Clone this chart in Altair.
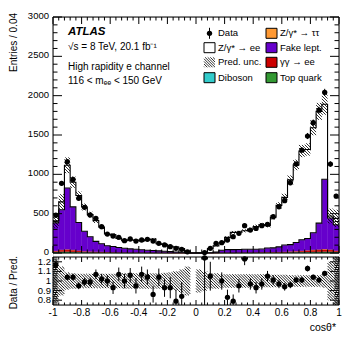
import math
import numpy as np
import pandas as pd
import altair as alt

# ---------------- values ----------------
N = 50
bin_lo = [round(-1 + 0.04 * i, 2) for i in range(N)]
bin_hi = [round(v + 0.04, 2) for v in bin_lo]
bin_c = [round(v + 0.02, 2) for v in bin_lo]

data_counts = [480, 886, 1160, 936, 695, 580, 483, 441, 334, 241,
               216, 199, 156, 178, 152, 165, 174, 152, 123, 102,
               80, 60, 47, 15, None, None, 5, 60, 123, 131,
               165, 207, 250, 347, 292, 313, 347, 365, 461, 588,
               665, 893, 1131, 1309, 1487, 1656, 1817, 2042, 1131, 724]
data_err = [22, 30, 34, 31, 26, 24, 22, 21, 18, 16,
            15, 14, 12, 13, 12, 13, 13, 12, 11, 10,
            9, 8, 7, 4, None, None, 2, 8, 11, 11,
            13, 14, 16, 19, 17, 18, 19, 19, 21, 24,
            26, 30, 34, 36, 39, 41, 43, 45, 34, 27]
pred_total = [410, 650, 1115, 900, 730, 585, 488, 412, 327, 241,
              232, 186, 156, 168, 160, 154, 167, 177, 118, 110,
              86, 76, 56, 25, 0, 2, 4, 57, 90, 131,
              199, 262, 263, 282, 301, 337, 358, 348, 456, 606,
              707, 930, 1120, 1296, 1316, 1592, 1800, 1890, 470, 440]
top_quark = [12, 14, 14, 12, 10, 9, 8, 7, 6, 5,
             5, 4, 4, 3, 3, 3, 2, 2, 2, 2,
             1, 1, 1, 0, 0, 0, 0, 1, 1, 2,
             2, 2, 3, 3, 3, 4, 4, 5, 5, 6,
             7, 8, 9, 10, 11, 12, 13, 14, 14, 12]
diboson = [3, 4, 4, 3, 3, 2, 2, 2, 2, 1,
           1, 1, 1, 1, 1, 1, 1, 1, 1, 1,
           0, 0, 0, 0, 0, 0, 0, 0, 0, 1,
           1, 1, 1, 1, 1, 1, 1, 1, 1, 1,
           1, 2, 2, 2, 2, 3, 3, 4, 4, 3]
gamgam = [10, 20, 25, 22, 15, 10, 8, 6, 5, 4,
          3, 3, 2, 2, 2, 2, 1, 1, 1, 1,
          1, 0, 0, 0, 0, 0, 0, 0, 1, 1,
          1, 1, 1, 2, 2, 2, 3, 3, 4, 5,
          6, 8, 10, 13, 18, 22, 25, 28, 22, 12]
ztautau = [2, 3, 4, 3, 3, 2, 2, 2, 2, 2,
           1, 1, 1, 1, 1, 1, 1, 1, 1, 1,
           1, 1, 0, 0, 0, 0, 0, 0, 1, 1,
           1, 1, 1, 1, 1, 1, 2, 2, 2, 2,
           2, 3, 3, 3, 4, 4, 4, 5, 4, 3]
fake = [356, 508, 779, 546, 356, 254, 187, 131, 102, 80,
        72, 60, 52, 45, 40, 35, 30, 27, 22, 18,
        14, 10, 8, 4, 0, 0, 0, 3, 8, 30,
        38, 38, 38, 40, 40, 40, 40, 53, 53, 64,
        85, 85, 110, 140, 150, 216, 335, 886, 400, 330]
pred_unc = [0.22, 0.15, 0.09, 0.08, 0.075, 0.075, 0.075, 0.075, 0.075, 0.075,
            0.075, 0.075, 0.08, 0.08, 0.08, 0.08, 0.08, 0.08, 0.08, 0.085,
            0.09, 0.10, 0.12, 0.15, 0, 0.12, 0.10, 0.08, 0.08, 0.07,
            0.07, 0.07, 0.07, 0.07, 0.07, 0.07, 0.07, 0.065, 0.065, 0.065,
            0.065, 0.06, 0.06, 0.06, 0.06, 0.06, 0.06, 0.07, 0.20, 0.25]
ratio = [1.17, None, 1.04, 1.04, 0.95, 0.99, 0.99, 1.07, 1.02, 1.00,
         0.93, 1.07, 1.00, 1.06, 0.95, 1.07, 1.04, 0.86, 1.04, 0.93,
         0.93, 0.79, 0.84, None, None, None, 1.24, 1.05, None, 1.00,
         0.83, 0.79, 0.95, 1.23, 0.97, 0.93, 0.97, 1.05, 1.01, 0.97,
         0.94, 0.96, 1.01, 1.01, 1.13, 1.04, 1.01, 1.08, None, None]
ratio_err = [0.04, None, 0.03, 0.035, 0.035, 0.04, 0.045, 0.05, 0.055, 0.06,
             0.065, 0.07, 0.075, 0.075, 0.08, 0.08, 0.08, 0.085, 0.09, 0.095,
             0.11, 0.12, 0.15, None, None, None, 0.5, 0.15, None, 0.09,
             0.08, 0.07, 0.07, 0.065, 0.06, 0.06, 0.06, 0.055, 0.05, 0.045,
             0.04, 0.035, 0.03, 0.03, 0.03, 0.025, 0.025, 0.025, None, None]

x_major = [-1, -0.8, -0.6, -0.4, -0.2, 0, 0.2, 0.4, 0.6, 0.8, 1]
x_labels = ["-1", "-0.8", "-0.6", "-0.4", "-0.2", "0", "0.2", "0.4", "0.6", "0.8", "1"]
y_major = [0, 500, 1000, 1500, 2000, 2500, 3000]
y_labels = ["0", "500", "1000", "1500", "2000", "2500", "3000"]
r_major = [0.8, 0.9, 1.0, 1.1, 1.2]
r_labels = ["0.8", "0.9", "1", "1.1", "1.2"]

# ---------------- layout ----------------
W, MH, GAP, RH = 286, 236, 4, 48
RT = MH + GAP
TH = RT + RH
FONT = "Liberation Sans"

xsc = alt.Scale(domain=[-1, 1], nice=False, zero=False)
ymain = alt.Scale(domain=[0, 3000], range=[MH, 0], nice=False, zero=False)
yrat = alt.Scale(domain=[0.75, 1.25], range=[TH, RT], nice=False, zero=False, clamp=True)
one = pd.DataFrame({"a": [0]})

# ---------------- stacked histogram ----------------
comps = [("Top quark", top_quark, "#339933"), ("Diboson", diboson, "#33cccc"),
         ("gg", gamgam, "#cc0000"), ("tautau", ztautau, "#ff9933"),
         ("Fake", fake, "#6600cc"), ("DY", None, "#ffffff")]
rects, lines = [], []
base = [0] * N
for name, vals, col in comps:
    if vals is None:
        vals = [max(pred_total[i] - base[i], 0) for i in range(N)]
    for i in range(N):
        rects.append(dict(lo=bin_lo[i], hi=bin_hi[i], y0=base[i], y1=base[i] + vals[i], col=col))
        if name in ("Fake", "DY"):
            lines.append(dict(x=bin_lo[i], y=base[i] + vals[i], name=name))
    if name in ("Fake", "DY"):
        lines.append(dict(x=1.0, y=base[-1] + vals[-1], name=name))
    base = [base[i] + vals[i] for i in range(N)]

stack = alt.Chart(pd.DataFrame(rects)).mark_rect(strokeWidth=0.4).encode(
    x=alt.X("lo:Q", scale=xsc, axis=None), x2="hi:Q",
    y=alt.Y("y0:Q", scale=ymain, axis=None), y2="y1:Q",
    fill=alt.Fill("col:N", scale=None), stroke=alt.Stroke("col:N", scale=None))
outline = alt.Chart(pd.DataFrame(lines)).mark_line(interpolate="step-after", color="black", strokeWidth=1.1).encode(
    x=alt.X("x:Q", scale=xsc, axis=None), y=alt.Y("y:Q", scale=ymain, axis=None), detail="name:N")


def hatch(boxes, sx, sy, x0, y0, sp=3.0):
    segs = []
    for (xa, xb, ya, yb) in boxes:
        ua, ub = (xa - x0) * sx, (xb - x0) * sx
        va, vb = (ya - y0) * sy, (yb - y0) * sy
        for n in range(math.ceil((ua + va) / sp), math.floor((ub + vb) / sp) + 1):
            k = n * sp
            u1, u2 = max(ua, k - vb), min(ub, k - va)
            if u2 - u1 > 0.05:
                segs.append(dict(x=u1 / sx + x0, y=(k - u1) / sy + y0,
                                 x2=u2 / sx + x0, y2=(k - u2) / sy + y0))
    return pd.DataFrame(segs)


sx = W / 2.0
main_boxes = [(bin_lo[i], bin_hi[i], pred_total[i] * (1 - pred_unc[i]), pred_total[i] * (1 + pred_unc[i]))
              for i in range(N) if pred_unc[i] > 0 and pred_total[i] > 0]
rat_boxes = [(bin_lo[i], bin_hi[i], 1 - pred_unc[i], 1 + pred_unc[i]) for i in range(N) if pred_unc[i] > 0]
hm = hatch(main_boxes, sx, MH / 3000.0, -1, 0)
hr = hatch(rat_boxes, sx, RH / 0.5, -1, 0.75, sp=2.8)
hatch_main = alt.Chart(hm).mark_rule(color="black", strokeWidth=0.8).encode(
    x=alt.X("x:Q", scale=xsc, axis=None), x2="x2:Q",
    y=alt.Y("y:Q", scale=ymain, axis=None), y2="y2:Q")
hatch_rat = alt.Chart(hr).mark_rule(color="black", strokeWidth=0.9).encode(
    x=alt.X("x:Q", scale=xsc, axis=None), x2="x2:Q",
    y=alt.Y("y:Q", scale=yrat, axis=None), y2="y2:Q")

# ---------------- data points ----------------
dm = pd.DataFrame([dict(c=bin_c[i], v=data_counts[i], lo=data_counts[i] - data_err[i], hi=data_counts[i] + data_err[i])
                   for i in range(N) if data_counts[i] is not None])
dr = pd.DataFrame([dict(c=bin_c[i], v=ratio[i], lo=ratio[i] - ratio_err[i], hi=ratio[i] + ratio_err[i])
                   for i in range(N) if ratio[i] is not None])
err_main = alt.Chart(dm).mark_rule(color="black", strokeWidth=1).encode(
    x=alt.X("c:Q", scale=xsc, axis=None), y=alt.Y("lo:Q", scale=ymain, axis=None), y2="hi:Q")
pts_main = alt.Chart(dm).mark_circle(color="black", size=28, opacity=1).encode(
    x=alt.X("c:Q", scale=xsc, axis=None), y=alt.Y("v:Q", scale=ymain, axis=None))
err_rat = alt.Chart(dr).mark_rule(color="black", strokeWidth=1).encode(
    x=alt.X("c:Q", scale=xsc, axis=None), y=alt.Y("lo:Q", scale=yrat, axis=None), y2="hi:Q")
pts_rat = alt.Chart(dr).mark_circle(color="black", size=28, opacity=1).encode(
    x=alt.X("c:Q", scale=xsc, axis=None), y=alt.Y("v:Q", scale=yrat, axis=None))

# ---------------- frames, ticks, labels ----------------
frames = []
for (ya, yb) in [(0, MH), (RT, TH)]:
    frames.append(alt.Chart(one).mark_rect(filled=False, stroke="black", strokeWidth=1).encode(
        x=alt.value(0), x2=alt.value(W), y=alt.value(ya), y2=alt.value(yb)))

x_minor = [round(-1 + 0.04 * k, 2) for k in range(51)]
x_minor = [v for v in x_minor if abs(v * 5 - round(v * 5)) > 1e-6]
y_minor = [v for v in range(0, 3001, 100) if v % 500]
r_minor = [round(0.76 + 0.02 * k, 2) for k in range(25)]
r_minor = [v for v in r_minor if abs(v * 10 - round(v * 10)) > 1e-6]


def xticks(vals, y_a, y_b):
    return alt.Chart(pd.DataFrame({"v": vals})).mark_rule(color="black", strokeWidth=1).encode(
        x=alt.X("v:Q", scale=xsc, axis=None), y=alt.value(y_a), y2=alt.value(y_b))


def yticks(vals, ysc, x_a, x_b):
    return alt.Chart(pd.DataFrame({"v": vals})).mark_rule(color="black", strokeWidth=1).encode(
        y=alt.Y("v:Q", scale=ysc, axis=None), x=alt.value(x_a), x2=alt.value(x_b))


ticks = [
    xticks(x_major, 0, 7), xticks(x_minor, 0, 3.5),
    xticks(x_major, MH - 7, MH), xticks(x_minor, MH - 3.5, MH),
    xticks(x_major, RT, RT + 5), xticks(x_minor, RT, RT + 2.5),
    xticks(x_major, TH - 5, TH), xticks(x_minor, TH - 2.5, TH),
    yticks(y_major, ymain, 0, 9), yticks(y_minor, ymain, 0, 4.5),
    yticks(y_major, ymain, W - 9, W), yticks(y_minor, ymain, W - 4.5, W),
    yticks(r_major, yrat, 0, 9), yticks(r_minor, yrat, 0, 4.5),
    yticks(r_major, yrat, W - 9, W), yticks(r_minor, yrat, W - 4.5, W),
]

lab_x = alt.Chart(pd.DataFrame({"v": x_major, "t": x_labels})).mark_text(
    font=FONT, fontSize=10, align="center", baseline="middle").encode(
    x=alt.X("v:Q", scale=xsc, axis=None), y=alt.value(TH + 8), text="t:N")
lab_y = alt.Chart(pd.DataFrame({"v": y_major, "t": y_labels})).mark_text(
    font=FONT, fontSize=9.5, align="right", baseline="middle", dy=-1).encode(
    y=alt.Y("v:Q", scale=ymain, axis=None), x=alt.value(-4), text="t:N")
lab_r = alt.Chart(pd.DataFrame({"v": r_major, "t": r_labels})).mark_text(
    font=FONT, fontSize=9.5, align="right", baseline="middle").encode(
    y=alt.Y("v:Q", scale=yrat, axis=None), x=alt.value(-2), text="t:N")


def txt(s, x, y, size=10, align="left", baseline="middle", angle=0, weight="normal", style="normal"):
    return alt.Chart(one).mark_text(font=FONT, fontSize=size, align=align, baseline=baseline,
                                    angle=angle, fontWeight=weight, fontStyle=style).encode(
        x=alt.value(x), y=alt.value(y), text=alt.value(s))


texts = [
    txt("Entries / 0.04", -39, -4, size=10, align="right", angle=270),
    txt("Data / Pred.", -39, RT - 1, size=10, align="right", angle=270),
    txt("cosθ*", W - 3, TH + 23, size=10.5, align="right"),
    txt("ATLAS", 15, 15, size=11.5, weight="bold", style="italic"),
    txt("√s = 8 TeV, 20.1 fb⁻¹", 15, 30, size=10),
    txt("High rapidity e channel", 15, 50, size=10),
    txt("116 < mₑₑ < 150 GeV", 15, 64, size=10),
]

# ---------------- legend ----------------
rows_y = [16.3, 30.7, 45.3, 60.7]
legend = []
left_items = [("Data", "data"), ("Z/γ* → ee", "#ffffff"), ("Pred. unc.", "hatch"), ("Diboson", "#33cccc")]
right_items = [("Z/γ* → ττ", "#ff9933"), ("Fake lept.", "#6600cc"), ("γγ → ee", "#cc0000"), ("Top quark", "#339933")]
for col_x, items in [(151, left_items), (213, right_items)]:
    for (label, kind), yc in zip(items, rows_y):
        if kind == "data":
            legend.append(alt.Chart(one).mark_rule(color="black", strokeWidth=1).encode(
                x=alt.value(col_x + 5.5), y=alt.value(yc - 5.5), y2=alt.value(yc + 5.5)))
            legend.append(alt.Chart(one).mark_circle(color="black", size=28, opacity=1).encode(
                x=alt.value(col_x + 5.5), y=alt.value(yc)))
        elif kind == "hatch":
            hl = hatch([(col_x, col_x + 11, -(yc + 5), -(yc - 5))], 1, 1, 0, 0, sp=2.6)
            hl = hl.assign(y=-hl["y"], y2=-hl["y2"])
            legend.append(alt.Chart(hl).mark_rule(color="black", strokeWidth=0.8).encode(
                x=alt.X("x:Q", scale=None), x2="x2:Q", y=alt.Y("y:Q", scale=None), y2="y2:Q"))
        else:
            legend.append(alt.Chart(one).mark_rect(fill=kind, stroke="black", strokeWidth=1).encode(
                x=alt.value(col_x), x2=alt.value(col_x + 11), y=alt.value(yc - 5), y2=alt.value(yc + 5)))
        legend.append(txt(label, col_x + 14, yc, size=9.5))

chart = alt.layer(
    stack, outline, hatch_main, hatch_rat, err_main, pts_main, err_rat, pts_rat,
    *frames, *ticks, lab_x, lab_y, lab_r, *texts, *legend
).resolve_scale(y="independent").properties(
    width=W, height=TH,
    autosize=alt.AutoSizeParams(type="none"),
    padding={"left": 45, "top": 9, "right": 10, "bottom": 31},
).configure_view(stroke=None).configure(font=FONT)

chart.save("out.html", embed_options={"renderer": "svg", "actions": False})
